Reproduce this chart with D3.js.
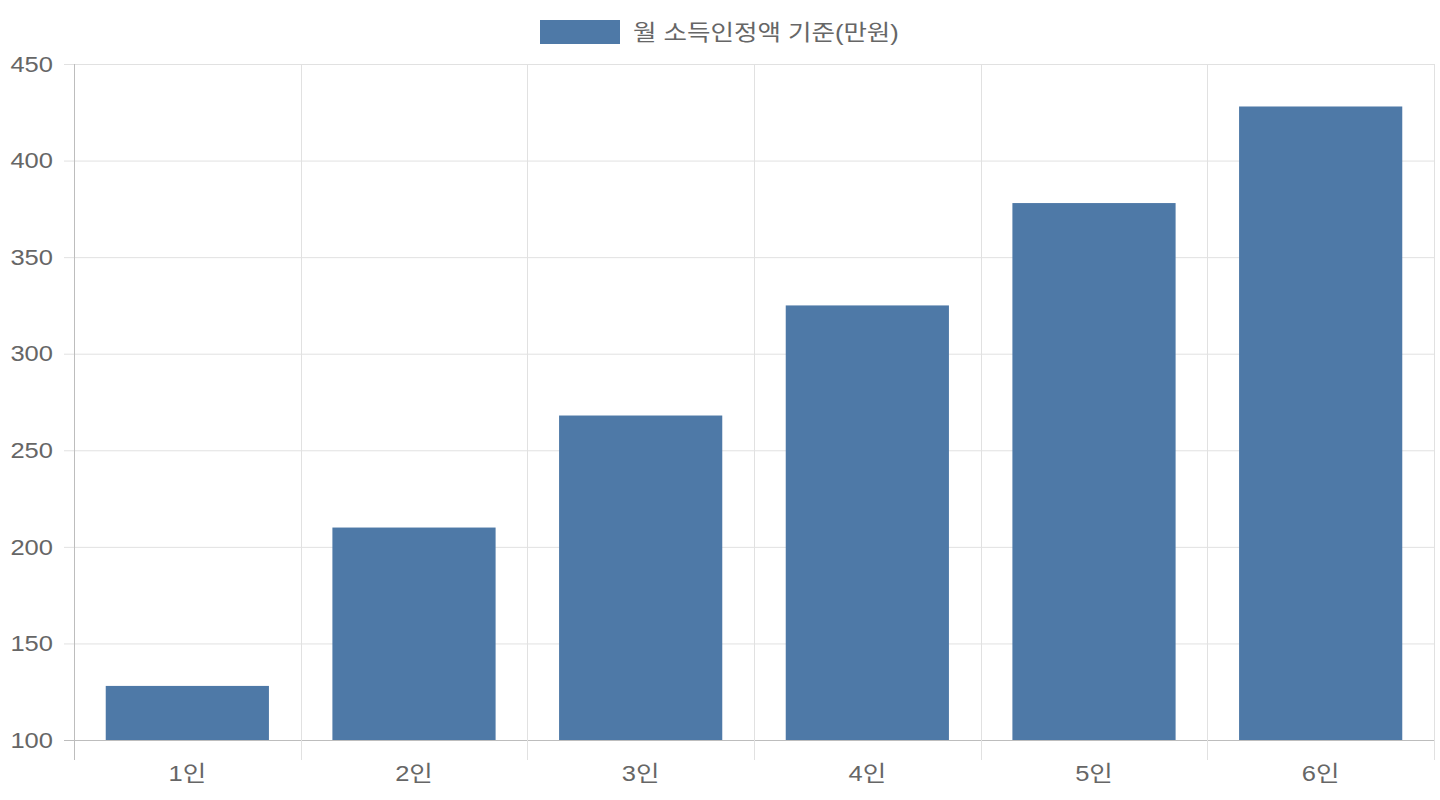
<!DOCTYPE html>
<html><head><meta charset="utf-8">
<script src="https://cdn.jsdelivr.net/npm/d3@7"></script>
<style>
html,body{margin:0;padding:0;background:#fff;}
text{font-family:"Liberation Sans","Noto Sans CJK KR",sans-serif;}
</style></head>
<body><svg id="c" width="1440" height="800"></svg>
<script>
const categories = ["1인","2인","3인","4인","5인","6인"];
const values = [128,210,268,325,378,428];
const yTicks = [100,150,200,250,300,350,400,450];
const seriesName = "월 소득인정액 기준(만원)";

const svg = d3.select("#c");
const L = 74, R = 1434, T = 64, B = 740;
const x = d3.scaleBand().domain(categories).range([L,R]).paddingInner(0).paddingOuter(0);
const y = d3.scaleLinear().domain([100,450]).range([B,T]);
const color = "#4e79a7";
const SX = 1.16, FS = 22;

// horizontal grid
svg.append("g").selectAll("line").data(yTicks).join("line")
  .attr("x1",L-10).attr("x2",R).attr("y1",d=>y(d)+0.5).attr("y2",d=>y(d)+0.5)
  .attr("stroke",d=>d===100?"#bdbdbd":"#e1e1e1").attr("stroke-width",1);
// vertical grid (category boundaries)
const bounds = categories.map(c=>x(c)).concat([R]);
svg.append("g").selectAll("line").data(bounds).join("line")
  .attr("x1",d=>Math.round(d)+0.5).attr("x2",d=>Math.round(d)+0.5).attr("y1",T).attr("y2",B+20)
  .attr("stroke",(d,i)=>i===0?"#bdbdbd":"#e1e1e1").attr("stroke-width",1);

// bars
const bw = x.bandwidth()*0.72;
svg.append("g").selectAll("rect").data(values).join("rect")
  .attr("x",(d,i)=>x(categories[i])+(x.bandwidth()-bw)/2)
  .attr("width",bw)
  .attr("y",d=>y(d))
  .attr("height",d=>B-y(d))
  .attr("fill",color);

function label(g, px, py, anchor, txt){
  g.append("g").attr("transform",`translate(${px},${py}) scale(${SX},1)`)
   .append("text").attr("dy","0.35em").attr("text-anchor",anchor)
   .attr("fill","#666").attr("font-size",FS).text(txt);
}
// y labels
const gy = svg.append("g");
yTicks.forEach(d=>label(gy, L-21, y(d), "end", d));
// x labels
const gx = svg.append("g");
categories.forEach(d=>label(gx, x(d)+x.bandwidth()/2, 773, "middle", d));

// legend
svg.append("rect").attr("x",540).attr("y",20).attr("width",80).attr("height",24).attr("fill",color);
label(svg, 633, 32, "start", seriesName);
</script></body></html>
